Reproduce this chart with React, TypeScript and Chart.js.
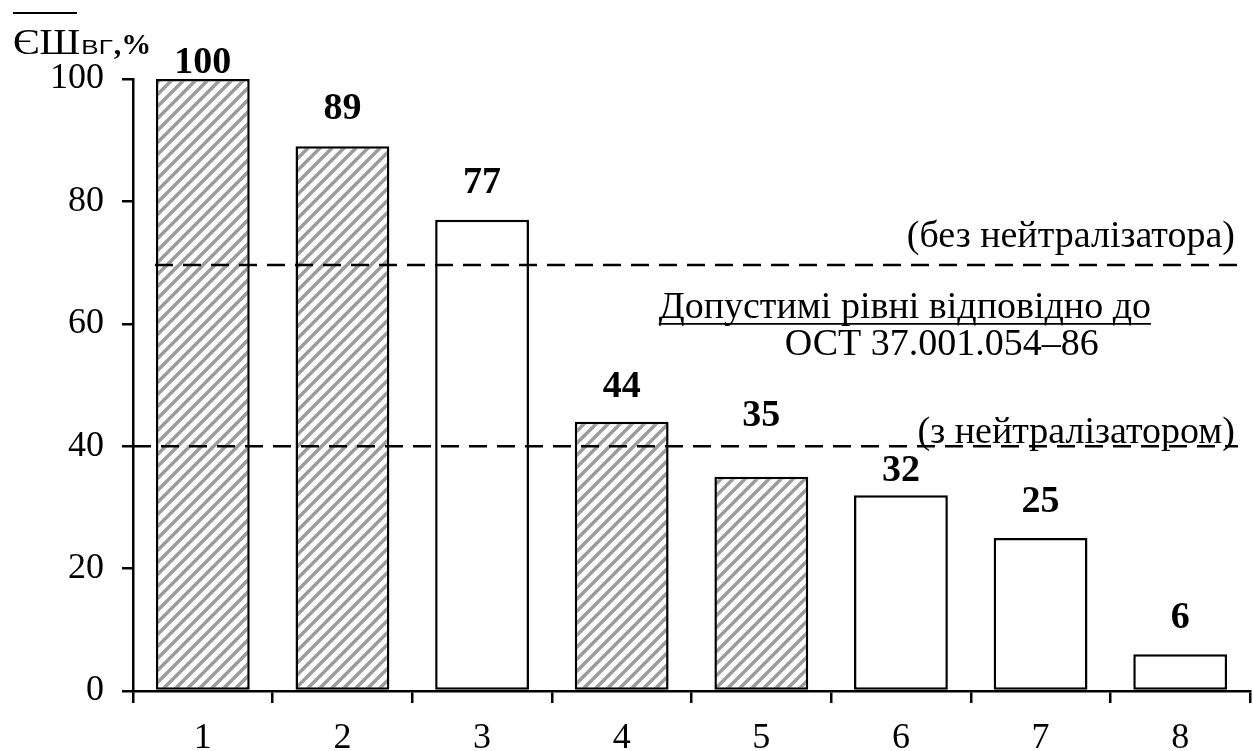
import React, { useEffect, useRef } from "react";
import { Chart, registerables } from "chart.js";

Chart.register(...registerables);

// ---- data ----
const categories = ["1", "2", "3", "4", "5", "6", "7", "8"];
const values = [100, 89, 77, 44, 35, 32, 25, 6];
const yTicks = [0, 20, 40, 60, 80, 100];
const limitWithoutNeutralizer = 69.6;
const limitWithNeutralizer = 40;

// ---- style ----
const hatchedBars = [true, true, false, true, true, false, false, false];
const labelGaps = [16, 37, 37, 35, 61, 24, 36, 36];
const SERIF = "'Liberation Serif', 'Times New Roman', serif";
const SANS = "'Liberation Sans', Arial, sans-serif";

function makeHatch(): CanvasPattern | string {
  const c = document.createElement("canvas");
  const s = 12;
  c.width = s;
  c.height = s;
  const g = c.getContext("2d");
  if (!g) return "#ccc";
  g.fillStyle = "#ffffff";
  g.fillRect(0, 0, s, s);
  g.strokeStyle = "#9c9c9c";
  g.lineWidth = 3.6;
  g.beginPath();
  for (let k = -1; k <= 1; k++) {
    g.moveTo(k * s - 1, s + 1);
    g.lineTo(k * s + s + 1, -1);
  }
  g.stroke();
  return g.createPattern(c, "repeat") || "#ccc";
}

const overlayPlugin = {
  id: "overlay",
  afterDatasetsDraw(chart: any) {
    const { ctx, chartArea, scales } = chart;
    const y = scales.y;
    const meta = chart.getDatasetMeta(0);
    ctx.save();
    // dashed limit lines
    ctx.strokeStyle = "#000";
    ctx.lineWidth = 2.5;
    ctx.setLineDash([18, 10]);
    [limitWithoutNeutralizer, limitWithNeutralizer].forEach((lv, i) => {
      const py = y.getPixelForValue(lv);
      ctx.beginPath();
      ctx.moveTo(chartArea.left + (i === 0 ? 22 : 0), py);
      ctx.lineTo(chartArea.right - 12, py);
      ctx.stroke();
    });
    ctx.setLineDash([]);

    // value labels
    ctx.fillStyle = "#000";
    ctx.font = `bold 38px ${SERIF}`;
    ctx.textAlign = "center";
    ctx.textBaseline = "middle";
    meta.data.forEach((bar: any, i: number) => {
      ctx.fillText(String(values[i]), bar.x, bar.y - labelGaps[i]);
    });

    // annotations
    const w = chartArea.right - chartArea.left;
    ctx.font = `38px ${SERIF}`;
    ctx.textAlign = "right";
    ctx.fillText("(без нейтралізатора)", chartArea.right - 15, y.getPixelForValue(limitWithoutNeutralizer) - 28);
    ctx.fillText("(з нейтралізатором)", chartArea.right - 15, y.getPixelForValue(limitWithNeutralizer) - 13);
    ctx.textAlign = "center";
    const t1 = "Допустимі рівні відповідно до";
    const cx1 = chartArea.left + 0.691 * w;
    const cy1 = y.getPixelForValue(62.6);
    ctx.fillText(t1, cx1, cy1);
    const tw = ctx.measureText(t1).width;
    ctx.lineWidth = 1.8;
    ctx.beginPath();
    ctx.moveTo(cx1 - tw / 2, cy1 + 16);
    ctx.lineTo(cx1 + tw / 2, cy1 + 16);
    ctx.stroke();
    ctx.fillText("ОСТ 37.001.054–86", chartArea.left + 0.724 * w, y.getPixelForValue(56.5));

    // y-axis title
    ctx.textAlign = "left";
    ctx.textBaseline = "alphabetic";
    ctx.save();
    ctx.translate(13, 54);
    ctx.scale(1.12, 1);
    ctx.font = `36px ${SERIF}`;
    ctx.fillText("ЄШ", 0, 0);
    const w1 = ctx.measureText("ЄШ").width * 1.12;
    ctx.restore();
    ctx.lineWidth = 2;
    ctx.beginPath();
    ctx.moveTo(13, 13);
    ctx.lineTo(77, 13);
    ctx.stroke();
    ctx.save();
    ctx.translate(13 + w1 + 1, 54);
    ctx.scale(1.3, 1);
    ctx.font = `20px ${SANS}`;
    ctx.fillText("ВГ", 0, 0);
    const w2 = ctx.measureText("ВГ").width * 1.3;
    ctx.restore();
    ctx.font = `bold 30px ${SERIF}`;
    ctx.fillText(",%", 13 + w1 + w2 + 2, 54);
    ctx.restore();
  },
};

export default function App() {
  const ref = useRef<HTMLCanvasElement | null>(null);
  useEffect(() => {
    if (!ref.current) return;
    const hatch = makeHatch();
    const chart = new Chart(ref.current, {
      type: "bar",
      data: {
        labels: categories,
        datasets: [
          {
            data: values,
            backgroundColor: hatchedBars.map((h) => (h ? hatch : "#ffffff")) as any,
            borderColor: "#000",
            borderWidth: 2.5,
            borderSkipped: false,
            barPercentage: 0.672,
            categoryPercentage: 1,
          },
        ],
      },
      options: {
        responsive: true,
        maintainAspectRatio: false,
        animation: false,
        layout: { padding: { top: 79, right: 3, left: 0, bottom: 0 } },
        plugins: { legend: { display: false }, tooltip: { enabled: false }, title: { display: false } },
        scales: {
          x: {
            offset: true,
            grid: {
              offset: true,
              drawOnChartArea: false,
              drawTicks: true,
              tickLength: 12,
              color: "#000",
              tickColor: "#000",
              tickWidth: 2.5,
              lineWidth: 2.5,
            },
            border: { color: "#000", width: 2.5 },
            ticks: { color: "#000", font: { family: SERIF, size: 36 }, padding: 14, maxRotation: 0 },
            afterFit: (s: any) => {
              s.height = 60;
            },
          },
          y: {
            min: 0,
            max: 100,
            afterBuildTicks: (s: any) => {
              s.ticks = yTicks.map((v) => ({ value: v }));
            },
            grid: {
              drawOnChartArea: false,
              drawTicks: true,
              tickLength: 11,
              color: "#000",
              tickColor: "#000",
              tickWidth: 2.5,
              lineWidth: 2.5,
            },
            border: { color: "#000", width: 2.5 },
            ticks: { color: "#000", font: { family: SERIF, size: 36 }, padding: 18 },
            afterFit: (s: any) => {
              s.width = 133;
            },
          },
        },
      },
      plugins: [overlayPlugin],
    });
    return () => chart.destroy();
  }, []);
  return (
    <div style={{ position: "absolute", left: 0, top: 0, width: 1253, height: 751, background: "#fff" }}>
      <canvas ref={ref} />
    </div>
  );
}
